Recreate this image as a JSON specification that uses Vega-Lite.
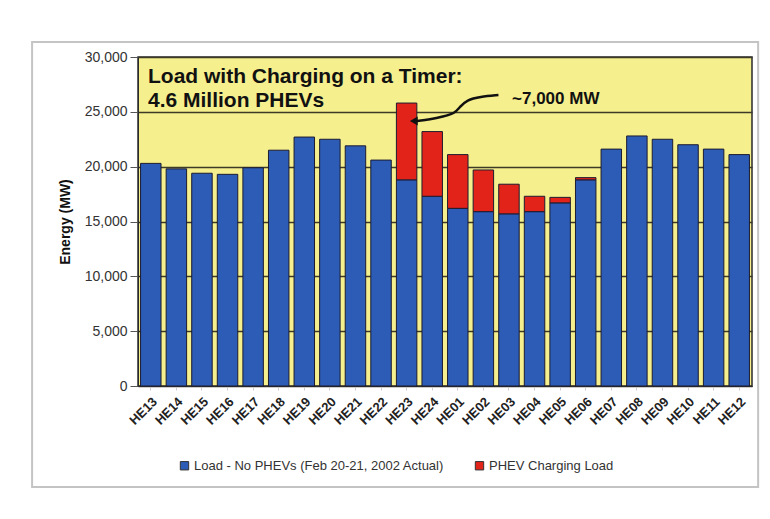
{
"$schema": "https://vega.github.io/schema/vega-lite/v6.json",
"autosize": {"type": "none"},
"width": 614,
"height": 329,
"padding": {"left": 138, "top": 57, "right": 18, "bottom": 133},
"background": "white",
"config": {"view": {"fill": "#f6ef8e", "stroke": "#2b2b2b", "strokeWidth": 1.5}, "font": "Liberation Sans"},
"datasets": {
"load": [
{"hour": "HE13", "series": "Load - No PHEVs (Feb 20-21, 2002 Actual)", "mw": 20300},
{"hour": "HE14", "series": "Load - No PHEVs (Feb 20-21, 2002 Actual)", "mw": 19800},
{"hour": "HE15", "series": "Load - No PHEVs (Feb 20-21, 2002 Actual)", "mw": 19400},
{"hour": "HE16", "series": "Load - No PHEVs (Feb 20-21, 2002 Actual)", "mw": 19300},
{"hour": "HE17", "series": "Load - No PHEVs (Feb 20-21, 2002 Actual)", "mw": 19900},
{"hour": "HE18", "series": "Load - No PHEVs (Feb 20-21, 2002 Actual)", "mw": 21500},
{"hour": "HE19", "series": "Load - No PHEVs (Feb 20-21, 2002 Actual)", "mw": 22700},
{"hour": "HE20", "series": "Load - No PHEVs (Feb 20-21, 2002 Actual)", "mw": 22500},
{"hour": "HE21", "series": "Load - No PHEVs (Feb 20-21, 2002 Actual)", "mw": 21900},
{"hour": "HE22", "series": "Load - No PHEVs (Feb 20-21, 2002 Actual)", "mw": 20600},
{"hour": "HE23", "series": "Load - No PHEVs (Feb 20-21, 2002 Actual)", "mw": 18800},
{"hour": "HE24", "series": "Load - No PHEVs (Feb 20-21, 2002 Actual)", "mw": 17300},
{"hour": "HE01", "series": "Load - No PHEVs (Feb 20-21, 2002 Actual)", "mw": 16200},
{"hour": "HE02", "series": "Load - No PHEVs (Feb 20-21, 2002 Actual)", "mw": 15900},
{"hour": "HE03", "series": "Load - No PHEVs (Feb 20-21, 2002 Actual)", "mw": 15700},
{"hour": "HE04", "series": "Load - No PHEVs (Feb 20-21, 2002 Actual)", "mw": 15900},
{"hour": "HE05", "series": "Load - No PHEVs (Feb 20-21, 2002 Actual)", "mw": 16700},
{"hour": "HE06", "series": "Load - No PHEVs (Feb 20-21, 2002 Actual)", "mw": 18800},
{"hour": "HE07", "series": "Load - No PHEVs (Feb 20-21, 2002 Actual)", "mw": 21600},
{"hour": "HE08", "series": "Load - No PHEVs (Feb 20-21, 2002 Actual)", "mw": 22800},
{"hour": "HE09", "series": "Load - No PHEVs (Feb 20-21, 2002 Actual)", "mw": 22500},
{"hour": "HE10", "series": "Load - No PHEVs (Feb 20-21, 2002 Actual)", "mw": 22000},
{"hour": "HE11", "series": "Load - No PHEVs (Feb 20-21, 2002 Actual)", "mw": 21600},
{"hour": "HE12", "series": "Load - No PHEVs (Feb 20-21, 2002 Actual)", "mw": 21100},
{"hour": "HE23", "series": "PHEV Charging Load", "mw": 7000},
{"hour": "HE24", "series": "PHEV Charging Load", "mw": 5900},
{"hour": "HE01", "series": "PHEV Charging Load", "mw": 4900},
{"hour": "HE02", "series": "PHEV Charging Load", "mw": 3800},
{"hour": "HE03", "series": "PHEV Charging Load", "mw": 2700},
{"hour": "HE04", "series": "PHEV Charging Load", "mw": 1400},
{"hour": "HE05", "series": "PHEV Charging Load", "mw": 500},
{"hour": "HE06", "series": "PHEV Charging Load", "mw": 200}
],
"arrow": [
{"i": 0, "x": 14.09, "y": 26533},
{"i": 1, "x": 13.37, "y": 26379},
{"i": 2, "x": 12.85, "y": 26078},
{"i": 3, "x": 12.59, "y": 25467},
{"i": 4, "x": 12.39, "y": 24865},
{"i": 5, "x": 11.92, "y": 24555},
{"i": 6, "x": 11.41, "y": 24318},
{"i": 7, "x": 10.9, "y": 24163}
]
},
"layer": [
{
"data": {"values": [{"x": -4.14, "x2": 24.24, "y": 31366, "y2": -9209}]},
"mark": {"type": "rect", "fill": null, "stroke": "#c4c4c4", "strokeWidth": 2, "clip": false},
"encoding": {
"x": {"field": "x", "type": "quantitative", "scale": {"domain": [0, 24], "nice": false, "zero": false}, "axis": null},
"x2": {"field": "x2"},
"y": {"field": "y", "type": "quantitative"},
"y2": {"field": "y2"}
}
},
{
"data": {"name": "load"},
"mark": {"type": "bar", "stroke": "#1c1c30", "strokeWidth": 1},
"encoding": {
"x": {"field": "hour", "type": "nominal",
"sort": ["HE13","HE14","HE15","HE16","HE17","HE18","HE19","HE20","HE21","HE22","HE23","HE24","HE01","HE02","HE03","HE04","HE05","HE06","HE07","HE08","HE09","HE10","HE11","HE12"],
"scale": {"paddingInner": 0.2, "paddingOuter": 0.1},
"axis": {"title": null, "labelAngle": -45, "labelFontSize": 13, "labelFontWeight": "bold", "labelColor": "#222", "domainColor": "#2b2b2b", "tickColor": "#cccccc", "tickSize": 4, "labelPadding": 5}},
"y": {"field": "mw", "type": "quantitative", "stack": "zero",
"scale": {"domain": [0, 30000], "nice": false},
"axis": {"title": "Energy (MW)", "values": [0, 5000, 10000, 15000, 20000, 25000, 30000], "format": ",.0f", "gridColor": "#3d3a28", "gridWidth": 1.5, "labelFontSize": 14, "labelColor": "#333", "titleFontSize": 14, "titleFontWeight": "bold", "titleColor": "#111", "titlePadding": 12, "tickSize": 8, "tickColor": "#555", "labelPadding": 3, "domainColor": "#2b2b2b"}},
"color": {"field": "series", "type": "nominal",
"scale": {"domain": ["Load - No PHEVs (Feb 20-21, 2002 Actual)", "PHEV Charging Load"], "range": ["#2c5cb6", "#e2231a"]},
"legend": {"orient": "none", "legendX": 40, "legendY": 402, "direction": "horizontal", "title": null, "symbolType": "square", "symbolSize": 70, "symbolStrokeColor": "#333", "symbolStrokeWidth": 1, "labelFontSize": 13, "labelColor": "#333", "labelLimit": 0, "columnPadding": 28, "labelOffset": 3}},
"order": {"field": "series", "type": "nominal", "sort": "ascending"}
}
},
{
"data": {"values": [
{"x": 0.39, "y": 27628, "label": "Load with Charging on a Timer:"},
{"x": 0.39, "y": 25440, "label": "4.6 Million PHEVs"}
]},
"mark": {"type": "text", "align": "left", "baseline": "alphabetic", "fontWeight": "bold", "fontSize": 21, "color": "#111"},
"encoding": {
"x": {"field": "x", "type": "quantitative", "scale": {"domain": [0, 24], "nice": false, "zero": false}, "axis": null},
"y": {"field": "y", "type": "quantitative"},
"text": {"field": "label"}
}
},
{
"data": {"values": [{"x": 14.62, "y": 25713, "label": "~7,000 MW"}]},
"mark": {"type": "text", "align": "left", "baseline": "alphabetic", "fontWeight": "bold", "fontSize": 17, "color": "#111"},
"encoding": {
"x": {"field": "x", "type": "quantitative", "scale": {"domain": [0, 24], "nice": false, "zero": false}, "axis": null},
"y": {"field": "y", "type": "quantitative"},
"text": {"field": "label"}
}
},
{
"data": {"name": "arrow"},
"mark": {"type": "line", "color": "#111", "strokeWidth": 2.5, "interpolate": "basis"},
"encoding": {
"x": {"field": "x", "type": "quantitative", "scale": {"domain": [0, 24], "nice": false, "zero": false}, "axis": null},
"y": {"field": "y", "type": "quantitative"},
"order": {"field": "i"}
}
},
{
"data": {"values": [{"x": 10.78, "y": 24163}]},
"mark": {"type": "point", "shape": "triangle-left", "filled": true, "color": "#111", "size": 80, "opacity": 1},
"encoding": {
"x": {"field": "x", "type": "quantitative", "scale": {"domain": [0, 24], "nice": false, "zero": false}, "axis": null},
"y": {"field": "y", "type": "quantitative"}
}
}
],
"resolve": {"scale": {"x": "independent"}}
}
